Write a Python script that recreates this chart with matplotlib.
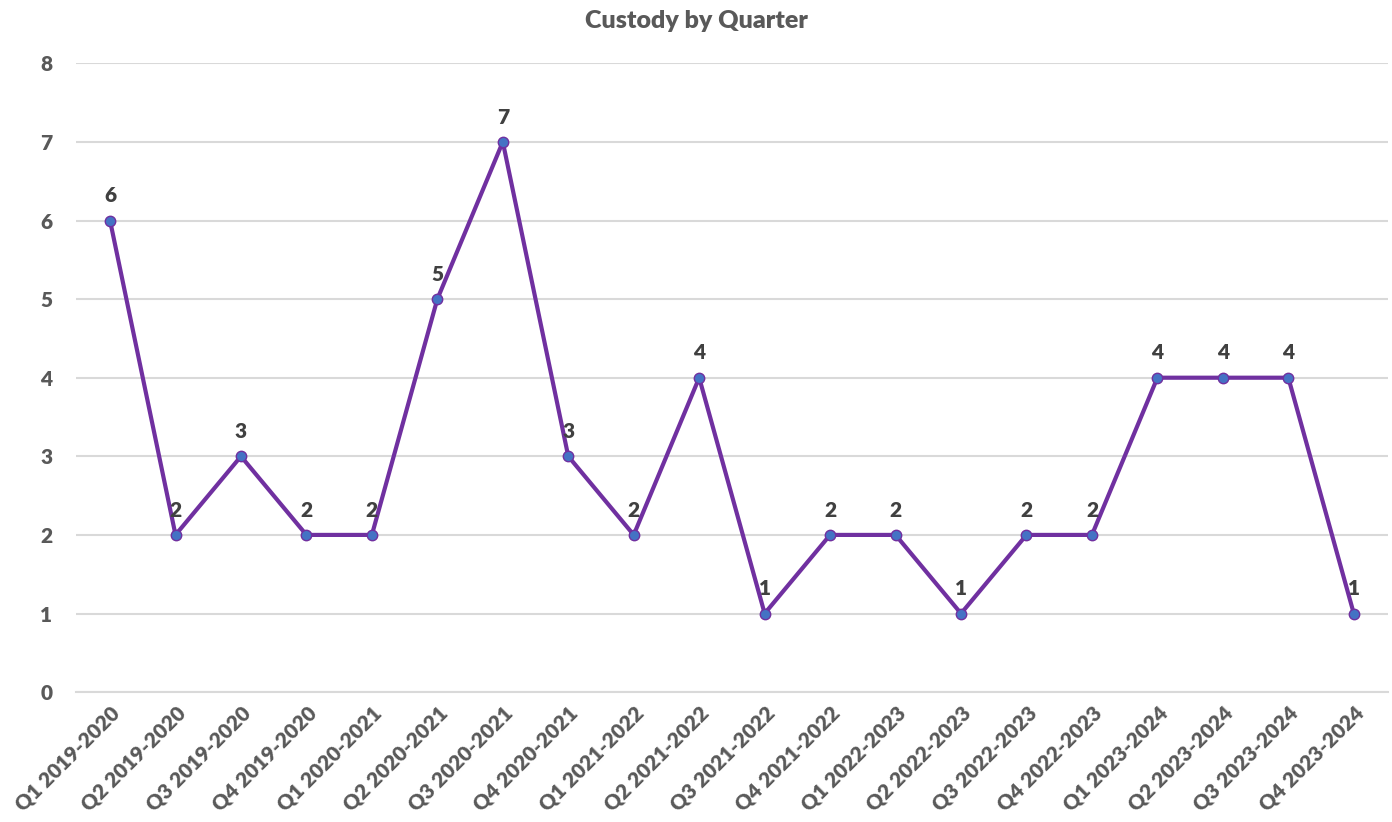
import numpy as np
import matplotlib
matplotlib.use('Agg')
from matplotlib import pyplot as plt

quarters = ['Q1 2019-2020', 'Q2 2019-2020', 'Q3 2019-2020', 'Q4 2019-2020',
            'Q1 2020-2021', 'Q2 2020-2021', 'Q3 2020-2021', 'Q4 2020-2021',
            'Q1 2021-2022', 'Q2 2021-2022', 'Q3 2021-2022', 'Q4 2021-2022',
            'Q1 2022-2023', 'Q2 2022-2023', 'Q3 2022-2023', 'Q4 2022-2023',
            'Q1 2023-2024', 'Q2 2023-2024', 'Q3 2023-2024', 'Q4 2023-2024']
custody = [6, 2, 3, 2, 2, 5, 7, 3, 2, 4, 1, 2, 2, 1, 2, 2, 4, 4, 4, 1]
yticks = [0, 1, 2, 3, 4, 5, 6, 7, 8]

plt.rcParams['font.family'] = ['Lato', 'DejaVu Sans']

fig = plt.figure(figsize=(13.92, 8.22), dpi=100)
ax = fig.add_axes([0.0546, 0.158, 0.9424, 0.765])

x = np.arange(len(custody))
ax.plot(x, custody, color='#7030A0', lw=3.0, marker='o', ms=7.5,
        mfc='#4472C4', mec='#7030A0', mew=1.0, zorder=3)

# data labels above each point
for xi, v in zip(x, custody):
    ax.annotate(str(v), (xi, v), xytext=(0, 11), textcoords='offset points',
                ha='center', va='bottom', fontsize=15, fontweight='heavy',
                color='#404040', zorder=4)

ax.set_xlim(-0.52, len(custody) - 0.48)
ax.set_ylim(0, 8)
ax.set_yticks(yticks)
ax.set_xticks(x)
ax.set_xticklabels(quarters, rotation=45, ha='right', rotation_mode='anchor')
ax.tick_params(axis='both', length=0, labelsize=15, labelcolor='#595959')
ax.tick_params(axis='y', pad=17)
ax.tick_params(axis='x', pad=8)
for lab in ax.get_xticklabels() + ax.get_yticklabels():
    lab.set_fontweight('heavy')

ax.grid(axis='y', color='#D9D9D9', lw=1.5)
ax.set_axisbelow(True)
for s in ['top', 'right', 'left']:
    ax.spines[s].set_visible(False)
ax.spines['bottom'].set_color('#D9D9D9')
ax.spines['bottom'].set_linewidth(1.5)

fig.text(0.5, 0.975, 'Custody by Quarter', ha='center', va='center',
         fontsize=18, fontweight='heavy', color='#595959')

fig.savefig('out.png', dpi=100)
